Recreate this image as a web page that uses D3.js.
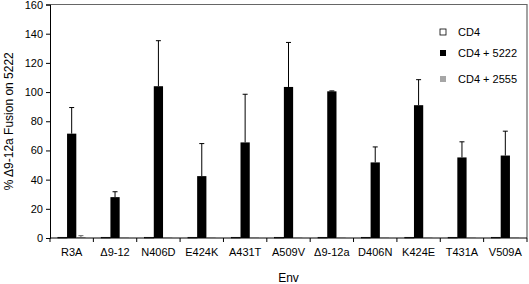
<!DOCTYPE html>
<html>
<head>
<meta charset="utf-8">
<script src="https://cdn.jsdelivr.net/npm/d3@7"></script>
<style>
  body { margin: 0; background: #fff; }
  svg { font-family: "Liberation Sans", Arial, sans-serif; }
</style>
</head>
<body>
<div id="chart"></div>
<script>
// ---- data ----
const envs = ["R3A", "Δ9-12", "N406D", "E424K", "A431T", "A509V", "Δ9-12a", "D406N", "K424E", "T431A", "V509A"];
const seriesNames = ["CD4", "CD4 + 5222", "CD4 + 2555"];
const cd4 = [0.5, 0.5, 0.5, 0.5, 0.5, 0.5, 0.5, 0.5, 0.5, 0.5, 0.5];
const cd4Err = [0, 0, 0, 0, 0, 0, 0, 0, 0, 0, 0];
const cd4_5222 = [71.5, 28, 104, 42.4, 65.5, 103.5, 100.5, 51.8, 91, 55.2, 56.5];
const cd4_5222Err = [17.9, 3.7, 31.2, 22.3, 33, 30.5, 0.3, 10.6, 17.5, 10.7, 16.7];
const cd4_2555 = [0.6, 0.3, 0.3, 0.3, 0.3, 0.3, 0.3, 0.3, 0.3, 0.3, 0.3];
const cd4_2555Err = [1.0, 0, 0, 0, 0, 0, 0, 0, 0, 0, 0];
const yTicks = [0, 20, 40, 60, 80, 100, 120, 140, 160];

const width = 529, height = 284;
const margin = {top: 4.5, right: 2, bottom: 46, left: 50};

const svg = d3.select("#chart").append("svg")
    .attr("width", width)
    .attr("height", height);

const x0 = d3.scaleBand()
    .domain(envs)
    .range([margin.left, width - margin.right]);

const x1 = d3.scaleBand()
    .domain(seriesNames)
    .range([x0.bandwidth() * 0.18, x0.bandwidth() * 0.82]);

const y = d3.scaleLinear()
    .domain([0, 160])
    .range([height - margin.bottom, margin.top]);

const colors = {"CD4": "#ffffff", "CD4 + 5222": "#000000", "CD4 + 2555": "#a6a6a6"};

const rows = [];
envs.forEach((e, i) => {
  rows.push({env: e, s: "CD4", v: cd4[i], err: cd4Err[i]});
  rows.push({env: e, s: "CD4 + 5222", v: cd4_5222[i], err: cd4_5222Err[i]});
  rows.push({env: e, s: "CD4 + 2555", v: cd4_2555[i], err: cd4_2555Err[i]});
});

// frame (top and right)
svg.append("path")
    .attr("d", `M${margin.left},${y(160)}H${width - margin.right}V${y(0)}`)
    .attr("fill", "none")
    .attr("stroke", "#666")
    .attr("stroke-width", 1.2);

// error bars
const capW = 5;
const eb = svg.append("g").selectAll("g")
    .data(rows.filter(d => d.err > 0))
    .join("g")
    .attr("stroke", d => d.s === "CD4 + 2555" ? "#666" : "#000")
    .attr("stroke-width", 1);
eb.append("line")
    .attr("x1", d => x0(d.env) + x1(d.s) + x1.bandwidth() / 2)
    .attr("x2", d => x0(d.env) + x1(d.s) + x1.bandwidth() / 2)
    .attr("y1", d => y(d.v))
    .attr("y2", d => y(d.v + d.err));
eb.append("line")
    .attr("x1", d => x0(d.env) + x1(d.s) + x1.bandwidth() / 2 - capW / 2)
    .attr("x2", d => x0(d.env) + x1(d.s) + x1.bandwidth() / 2 + capW / 2)
    .attr("y1", d => y(d.v + d.err))
    .attr("y2", d => y(d.v + d.err));

// bars
svg.append("g").selectAll("rect")
    .data(rows)
    .join("rect")
    .attr("x", d => x0(d.env) + x1(d.s))
    .attr("y", d => y(d.v))
    .attr("width", x1.bandwidth())
    .attr("height", d => y(0) - y(d.v))
    .attr("fill", d => colors[d.s])
    .attr("stroke", d => d.s === "CD4" ? "#000" : "none")
    .attr("stroke-width", 0.6);

// y axis
svg.append("g")
    .attr("transform", `translate(${margin.left},0)`)
    .call(d3.axisLeft(y).tickValues(yTicks).tickSize(4).tickPadding(3))
    .call(g => g.selectAll("text").attr("font-size", 11).attr("fill", "#000"))
    .call(g => g.selectAll("line,path").attr("stroke", "#000"));

// x axis: ticks at category boundaries
const xg = svg.append("g")
    .attr("transform", `translate(0,${y(0)})`);
xg.append("line")
    .attr("x1", margin.left).attr("x2", width - margin.right)
    .attr("stroke", "#000");
xg.selectAll(".tk")
    .data(envs.concat(["end"]))
    .join("line")
    .attr("class", "tk")
    .attr("x1", (d, i) => margin.left + i * x0.step())
    .attr("x2", (d, i) => margin.left + i * x0.step())
    .attr("y2", 4)
    .attr("stroke", "#000");
xg.selectAll("text")
    .data(envs)
    .join("text")
    .attr("x", d => x0(d) + x0.bandwidth() / 2)
    .attr("y", 18)
    .attr("text-anchor", "middle")
    .attr("font-size", 11)
    .text(d => d);

// axis titles
svg.append("text")
    .attr("x", (margin.left + width - margin.right) / 2)
    .attr("y", 282)
    .attr("text-anchor", "middle")
    .attr("font-size", 12)
    .text("Env");

svg.append("text")
    .attr("transform", `translate(13,${(y(0) + y(160)) / 2}) rotate(-90)`)
    .attr("text-anchor", "middle")
    .attr("font-size", 12)
    .text("% Δ9-12a Fusion on 5222");

// legend
const legendY = [32, 53, 79];
const lg = svg.append("g").selectAll("g")
    .data(seriesNames)
    .join("g")
    .attr("transform", (d, i) => `translate(440,${legendY[i]})`);
lg.append("rect")
    .attr("x", 0).attr("y", -3)
    .attr("width", 6).attr("height", 6)
    .attr("fill", d => colors[d])
    .attr("stroke", d => d === "CD4" ? "#000" : "none")
    .attr("stroke-width", 0.8);
lg.append("text")
    .attr("x", 18)
    .attr("dy", "0.35em")
    .attr("font-size", 11)
    .text(d => d);
</script>
</body>
</html>
